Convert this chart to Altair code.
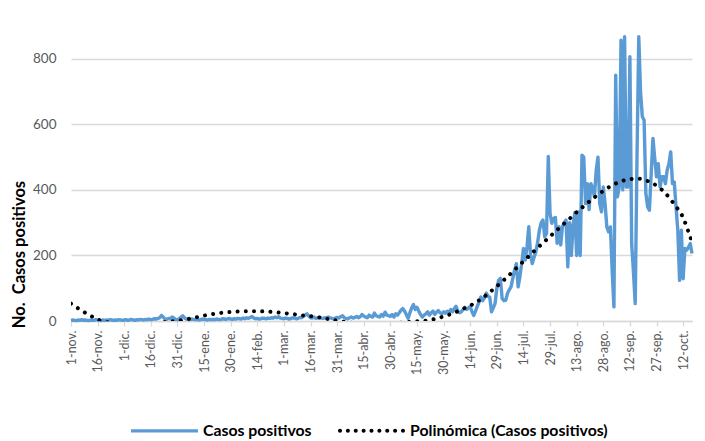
import altair as alt
import pandas as pd

# Tick labels (every 15 days starting at 1-nov)
etiquetas = ['1-nov.', '16-nov.', '1-dic.', '16-dic.', '31-dic.', '15-ene.', '30-ene.',
             '14-feb.', '1-mar.', '16-mar.', '31-mar.', '15-abr.', '30-abr.', '15-may.',
             '30-may.', '14-jun.', '29-jun.', '14-jul.', '29-jul.', '13-ago.', '28-ago.',
             '12-sep.', '27-sep.', '12-oct.']

# Daily positive cases (day 0 = 1-nov)
casos = [
    2, 3, 2, 1, 3, 2, 4, 2, 3, 2,
    1, 3, 2, 2, 4, 3, 2, 1, 3, 2,
    3, 2, 4, 3, 2, 3, 2, 4, 3, 2,
    3, 4, 2, 3, 5, 3, 2, 4, 3, 5,
    4, 3, 5, 4, 6, 4, 5, 7, 6, 8,
    10, 17, 12, 6, 5, 8, 7, 12, 9, 5,
    4, 7, 12, 16, 9, 6, 5, 4, 6, 5,
    4, 5, 3, 4, 6, 5, 4, 3, 5, 4,
    5, 4, 6, 5, 4, 6, 7, 5, 6, 8,
    6, 5, 7, 6, 8, 7, 6, 9, 7, 10,
    8, 11, 14, 9, 7, 8, 6, 7, 9, 8,
    7, 9, 8, 10, 9, 12, 10, 13, 9, 8,
    7, 9, 8, 6, 8, 10, 9, 7, 8, 11,
    10, 14, 18, 22, 15, 10, 9, 12, 8, 10,
    11, 9, 8, 10, 9, 12, 10, 8, 7, 9,
    11, 9, 13, 16, 10, 8, 7, 10, 12, 9,
    11, 14, 10, 13, 20, 15, 12, 10, 18, 14,
    12, 24, 16, 14, 12, 20, 15, 27, 18, 16,
    14, 20, 12, 22, 18, 25, 33, 38, 30, 20,
    8, 25, 40, 50, 35, 42, 30, 20, 12, 18,
    22, 28, 18, 25, 30, 20, 27, 32, 25, 22,
    28, 24, 30, 26, 35, 28, 38, 45, 30, 25,
    28, 35, 42, 35, 40, 44, 28, 17, 30, 45,
    58, 73, 62, 70, 85, 75, 73, 28, 40, 53,
    100, 124, 130, 68, 62, 63, 84, 95, 104, 130,
    155, 175, 104, 135, 175, 221, 186, 226, 288, 200,
    175, 195, 211, 240, 277, 300, 308, 257, 267, 502,
    328, 298, 313, 316, 237, 288, 232, 288, 300, 308,
    165, 300, 200, 292, 330, 200, 333, 200, 506, 500,
    358, 419, 340, 419, 405, 379, 460, 500, 358, 333,
    409, 358, 287, 272, 287, 155, 43, 750, 379, 409,
    857, 400, 867, 409, 409, 806, 236, 150, 53, 500,
    867, 700, 623, 613, 389, 348, 338, 450, 557, 496,
    440, 480, 409, 440, 440, 419, 460, 480, 516, 419,
    424, 348, 277, 124, 277, 129, 221, 216, 225, 236,
    206,
]

# Polynomial trendline
tend_dias = [0, 5, 10, 15, 20, 25, 30, 35, 40, 45, 50, 55, 60, 65, 70, 75, 80, 85, 90, 95,
             100, 105, 110, 115, 120, 125, 130, 135, 140, 145, 150, 155, 160, 165, 170, 175,
             180, 185, 190, 195, 200, 205, 210, 215, 220, 225, 230, 235, 240, 245, 250, 255,
             260, 265, 270, 275, 280, 285, 290, 295, 300, 305, 310, 315, 320, 325, 330, 335,
             340, 345, 348, 350]
tend_valores = [53, 35, 19, 5, -3, -8, -10, -10, -9, -7, -5, -2, 1, 5, 10.5, 16.5, 21.5, 25, 27.5, 29,
                29.8, 29.8, 29, 27, 24, 21, 17.5, 14.5, 10.5, 6, 1, -3, -6, -8, -9, -9,
                -8, -6, -3.5, -1, 1, 6, 14, 23, 35, 47, 63, 83, 106, 130, 156, 182,
                208, 233, 258, 283, 307, 332, 355, 377, 397, 414, 426, 433, 434, 427, 413, 390,
                356, 315, 272, 242]

serie_casos = "Casos positivos"
serie_tend = "Polinómica (Casos positivos)"

df_casos = pd.DataFrame({"dia": list(range(len(casos))), "valor": casos, "serie": serie_casos})
df_tend = pd.DataFrame({"dia": tend_dias, "valor": tend_valores, "serie": serie_tend})
df = pd.concat([df_casos, df_tend], ignore_index=True)

label_expr = "[" + ",".join("'%s'" % s for s in etiquetas) + "][round(datum.value / 15)]"

FONT = "Lato"

x = alt.X(
    "dia:Q",
    scale=alt.Scale(domain=[0, 350], nice=False, zero=False),
    axis=alt.Axis(
        values=list(range(0, 15 * len(etiquetas), 15)),
        labelExpr=label_expr,
        labelAngle=270,
        grid=False,
        domainColor="#D9D9D9",
        domainWidth=1.3,
        tickColor="#D9D9D9",
        tickWidth=1.3,
        tickSize=5,
        labelPadding=4,
        labelFont=FONT,
        labelFontSize=12.5,
        labelColor="#595959",
        title=None,
    ),
)
y = alt.Y(
    "valor:Q",
    scale=alt.Scale(domain=[0, 900], nice=False),
    axis=alt.Axis(
        values=[0, 200, 400, 600, 800],
        grid=True,
        gridColor="#D9D9D9",
        gridWidth=1.3,
        domain=False,
        ticks=False,
        labelPadding=15,
        labelFont=FONT,
        labelFontSize=13.5,
        labelColor="#595959",
        title="No.\u00a0 Casos positivos",
        titleFont=FONT,
        titleFontSize=16.5,
        titleFontWeight="bold",
        titleColor="#000000",
        titleAngle=270,
        titleBaseline="bottom",
        titleAlign="center",
        titleX=-44,
        titleY=228,
    ),
)

base = alt.Chart(df).encode(x=x, y=y)

line_casos = base.transform_filter(alt.datum.serie == serie_casos).mark_line(
    color="#5B9BD5", strokeWidth=3.4, strokeJoin="round"
)
line_tend = base.transform_filter(alt.datum.serie == serie_tend).mark_line(
    color="#000000", strokeWidth=4, strokeDash=[0.01, 8.2], strokeCap="round",
    interpolate="monotone", clip=True
)

# legend symbols (custom paths in the unit square)
path_linea = "M-1,-0.05L1,-0.05L1,0.05L-1,0.05Z"
r = 0.06
partes = []
for i in range(9):
    cx = -0.94 + i * 0.235
    partes.append("M%.3f,0A%.3f,%.3f 0 1,0 %.3f,0A%.3f,%.3f 0 1,0 %.3f,0Z" % (cx - r, r, r, cx + r, r, r, cx - r))
path_puntos = "".join(partes)

leg = alt.Legend(
    title=None, orient="none", legendX=60, legendY=371, direction="horizontal",
    symbolSize=67 * 67, symbolStrokeWidth=0, symbolOpacity=1,
    labelFont=FONT, labelFontSize=15.8, labelFontWeight="bold", labelColor="#000000",
    labelOffset=5, labelLimit=400, columnPadding=26, padding=0,
)

pts = base.mark_point(filled=True, opacity=0).encode(
    color=alt.Color("serie:N", scale=alt.Scale(domain=[serie_casos, serie_tend],
                                                range=["#5B9BD5", "#000000"]), legend=leg),
    shape=alt.Shape("serie:N", scale=alt.Scale(domain=[serie_casos, serie_tend],
                                                range=[path_linea, path_puntos]), legend=leg),
)

chart = alt.layer(line_casos, line_tend, pts).properties(
    width=621, height=295,
    padding={"left": 63, "top": 18, "right": 4, "bottom": 130},
    autosize=alt.AutoSizeParams(type="none"),
    background="white",
).configure_view(stroke=None)

chart.save("out.html", embed_options={"renderer": "svg", "actions": False})
